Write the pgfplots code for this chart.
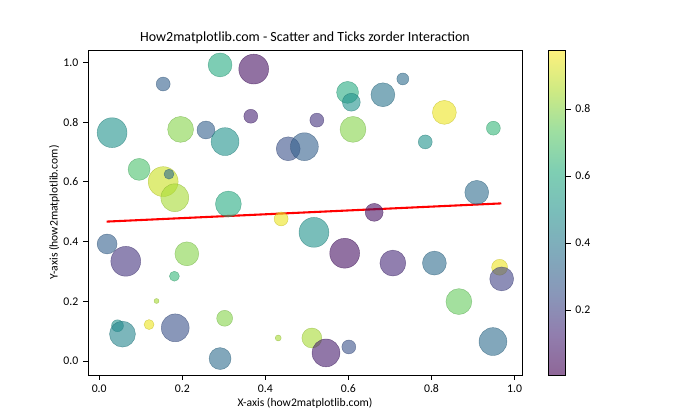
\documentclass[border=0pt]{standalone}
\usepackage{fontspec}
\setmainfont{Carlito}
\usepackage{pgfplots}
\usepackage{pgfplotstable}
\pgfplotsset{compat=1.18}
\pgfplotstableread{
x y c r
0.291 0.992 0.60 12
0.372 0.978 0.05 15
0.154 0.928 0.30 7
0.031 0.765 0.50 15
0.196 0.776 0.80 13
0.257 0.774 0.30 9
0.303 0.735 0.50 14
0.365 0.820 0.10 7
0.455 0.711 0.25 12
0.494 0.718 0.30 14
0.096 0.642 0.70 11
0.154 0.601 0.90 15
0.168 0.626 0.35 5
0.182 0.547 0.85 14
0.311 0.526 0.60 13
0.598 0.900 0.60 11
0.607 0.867 0.50 9
0.683 0.892 0.38 12
0.731 0.945 0.35 6
0.524 0.807 0.15 7
0.611 0.776 0.80 13
0.831 0.833 0.95 12
0.949 0.780 0.65 7
0.785 0.734 0.50 7
0.909 0.565 0.35 12
0.662 0.498 0.05 9
0.438 0.476 0.95 7
0.019 0.392 0.30 10
0.064 0.334 0.15 15
0.211 0.359 0.80 12
0.181 0.284 0.65 5
0.138 0.201 0.85 2.5
0.044 0.118 0.50 6
0.056 0.090 0.45 13
0.120 0.122 0.95 5
0.183 0.111 0.25 14
0.302 0.143 0.80 8
0.291 0.008 0.35 11
0.431 0.077 0.85 3
0.512 0.077 0.85 10
0.517 0.431 0.50 15
0.591 0.361 0.05 15
0.707 0.328 0.12 13
0.807 0.328 0.35 12
0.964 0.314 0.95 8
0.969 0.275 0.20 12
0.866 0.199 0.75 13
0.546 0.027 0.08 14
0.601 0.047 0.25 7
0.948 0.065 0.35 14
}\scatterdata
\pgfplotsset{
  colormap={viridislight}{
    rgb255(0)=(143,103,152)
    rgb255(1)=(145,126,174)
    rgb255(2)=(137,151,185)
    rgb255(3)=(128,170,187)
    rgb255(4)=(122,189,186)
    rgb255(5)=(126,206,179)
    rgb255(6)=(158,223,161)
    rgb255(7)=(206,234,131)
    rgb255(8)=(254,241,124)
  }
}
\begin{document}
\begin{tikzpicture}
\useasboundingbox (-63.36bp,-32.4bp) rectangle (440.64bp,270bp);
\begin{axis}[
  at={(0,0)}, anchor=south west,
  scale only axis,
  width=312.5bp, height=234bp,
  xmin=-0.027, xmax=1.018,
  ymin=-0.047, ymax=1.042,
  xtick={0,0.2,0.4,0.6,0.8,1.0},
  ytick={0,0.2,0.4,0.6,0.8,1.0},
  xtick pos=left, ytick pos=left,
  tick align=outside,
  major tick length=3.5bp,
  every tick/.style={black, line width=0.6pt},
  tick label style={font=\fontsize{8.5}{10}\selectfont},
  /pgf/number format/assume math mode=true,
  xticklabel style={/pgf/number format/.cd, fixed, fixed zerofill, precision=1},
  yticklabel style={/pgf/number format/.cd, fixed, fixed zerofill, precision=1},
  title={How2matplotlib.com - Scatter and Ticks zorder Interaction},
  title style={font=\fontsize{10.1}{12}\selectfont, yshift=-5bp},
  xlabel={X-axis (how2matplotlib.com)},
  ylabel={Y-axis (how2matplotlib.com)},
  label style={font=\fontsize{8.4}{10}\selectfont},
  xlabel style={yshift=3bp},
  ylabel style={yshift=-4bp},
  axis line style={line width=0.6pt},
  colormap/viridis,
  point meta min=0.006, point meta max=0.976,
  colorbar,
  colorbar style={
    colormap name=viridislight,
    width=12.2bp,
    xshift=7.4bp,
    ytick={0.2,0.4,0.6,0.8},
    ytick pos=right, yticklabel pos=right,
    /pgf/number format/assume math mode=true,
    yticklabel style={font=\fontsize{8.5}{10}\selectfont, /pgf/number format/.cd, fixed, fixed zerofill, precision=1},
    major tick length=3.5bp,
    tick align=outside,
    every tick/.style={black, line width=0.6pt},
    axis line style={line width=0.6pt},
  },
]
\addplot[
  scatter, only marks, mark=*,
  point meta=\thisrow{c},
  visualization depends on={0.72*\thisrow{r} \as \rad},
  scatter/@pre marker code/.append style={/tikz/mark size=\rad},
  mark options={fill opacity=0.6, draw opacity=0.6, line width=0.3pt},
] table[x=x, y=y] {\scatterdata};
\addplot[red, line width=1.5bp, no marks] coordinates {(0.018,0.467) (0.968,0.528)};
\end{axis}
\end{tikzpicture}
\end{document}
